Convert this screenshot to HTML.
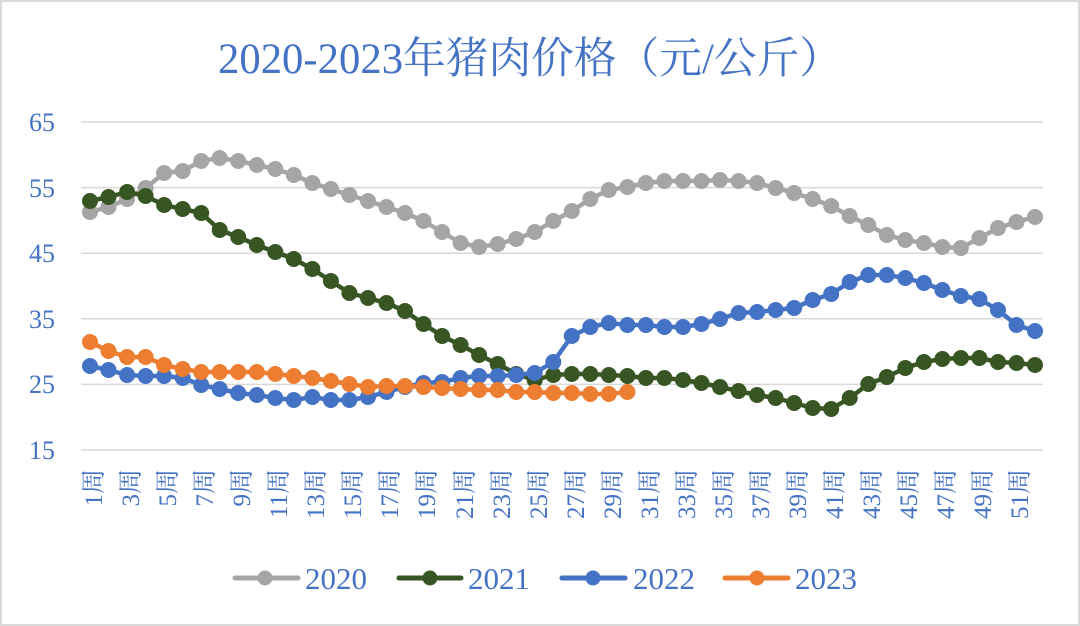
<!DOCTYPE html>
<html><head><meta charset="utf-8"><style>
html,body{margin:0;padding:0;background:#fff}
svg{display:block}
text{font-family:"Liberation Serif","Noto Serif CJK SC",serif;fill:#4472C4}
</style></head><body>
<svg id="s" width="1080" height="626" viewBox="0 0 1080 626" xmlns="http://www.w3.org/2000/svg">
<rect x="1" y="1" width="1078" height="624" fill="#fff" stroke="#d9d9d9" stroke-width="2"/>
<text x="530" y="73" font-size="43" text-anchor="middle" textLength="624" lengthAdjust="spacingAndGlyphs">2020-2023年猪肉价格（元/公斤）</text>
<g stroke="#d9d9d9" stroke-width="1.5">
<line x1="81" y1="122" x2="1043" y2="122"/><line x1="81" y1="187.6" x2="1043" y2="187.6"/>
<line x1="81" y1="253.2" x2="1043" y2="253.2"/><line x1="81" y1="318.8" x2="1043" y2="318.8"/>
<line x1="81" y1="384.4" x2="1043" y2="384.4"/><line x1="81" y1="450" x2="1043" y2="450"/>
</g>
<g font-size="26" text-anchor="end">
<text x="55" y="131">65</text><text x="55" y="197">55</text><text x="55" y="262">45</text>
<text x="55" y="328">35</text><text x="55" y="393">25</text><text x="55" y="459">15</text>
</g>
<g id="xl" font-size="25" text-anchor="end">
<text transform="translate(102,469) rotate(-90)">1周</text>
<text transform="translate(139,469) rotate(-90)">3周</text>
<text transform="translate(176,469) rotate(-90)">5周</text>
<text transform="translate(213,469) rotate(-90)">7周</text>
<text transform="translate(250,469) rotate(-90)">9周</text>
<text transform="translate(287,469) rotate(-90)">11周</text>
<text transform="translate(324,469) rotate(-90)">13周</text>
<text transform="translate(361,469) rotate(-90)">15周</text>
<text transform="translate(398,469) rotate(-90)">17周</text>
<text transform="translate(435,469) rotate(-90)">19周</text>
<text transform="translate(473,469) rotate(-90)">21周</text>
<text transform="translate(510,469) rotate(-90)">23周</text>
<text transform="translate(547,469) rotate(-90)">25周</text>
<text transform="translate(584,469) rotate(-90)">27周</text>
<text transform="translate(621,469) rotate(-90)">29周</text>
<text transform="translate(658,469) rotate(-90)">31周</text>
<text transform="translate(695,469) rotate(-90)">33周</text>
<text transform="translate(732,469) rotate(-90)">35周</text>
<text transform="translate(769,469) rotate(-90)">37周</text>
<text transform="translate(806,469) rotate(-90)">39周</text>
<text transform="translate(843,469) rotate(-90)">41周</text>
<text transform="translate(880,469) rotate(-90)">43周</text>
<text transform="translate(917,469) rotate(-90)">45周</text>
<text transform="translate(954,469) rotate(-90)">47周</text>
<text transform="translate(991,469) rotate(-90)">49周</text>
<text transform="translate(1028,469) rotate(-90)">51周</text>
</g>
<g id="series"></g>
<g stroke-width="5" stroke-linecap="round">
<line x1="235" y1="578" x2="298" y2="578" stroke="#A5A5A5"/><circle cx="265" cy="578" r="7.5" fill="#A5A5A5"/>
<line x1="399" y1="578" x2="461" y2="578" stroke="#375623"/><circle cx="430" cy="578" r="7.5" fill="#375623"/>
<line x1="562" y1="578" x2="625" y2="578" stroke="#4472C4"/><circle cx="593" cy="578" r="7.5" fill="#4472C4"/>
<line x1="725" y1="578" x2="788" y2="578" stroke="#ED7D31"/><circle cx="757" cy="578" r="7.5" fill="#ED7D31"/>
</g>
<g font-size="31">
<text x="305" y="589">2020</text><text x="468" y="589">2021</text>
<text x="633" y="589">2022</text><text x="795" y="589">2023</text>
</g>
</svg>
<script>
var D={
"#A5A5A5":[212,207,199,188,173,171,161,158,161,165,169,175,183,189,195,201,207,213,221,232,243,247,244,239,232,221,211,199,190,187,183,181,181,181,180,181,183,188,193,199,206,216,225,235,240,243,247,248,238,228,222,217],
"#375623":[201,197,192,196,205,209,213,230,237,245,252,259,269,281,293,298,303,311,324,336,345,355,364,374,380,375,374,374,375,376,378,378,380,383,387,391,395,398,403,408,409,398,384,377,368,362,359,358,358,362,363,365],
"#4472C4":[366,370,375,376,376,378,385,389,393,395,398,400,397,400,400,397,392,387,383,382,378,376,376,375,373,362,336,327,323,325,325,327,327,324,319,313,312,310,308,300,294,282,275,275,278,283,290,296,299,310,325,331],
"#ED7D31":[342,351,357,357,365,369,372,372,372,372,374,376,378,381,384,387,386,386,387,388,389,390,390,392,392,393,393,394,394,392]
};
var g=document.getElementById('series'),h="";
for(var c in D){var p=D[c].map(function(y,i){return (90+i*18.53).toFixed(1)+","+y}).join(" ");
h+='<polyline points="'+p+'" fill="none" stroke="'+c+'" stroke-width="4.5" stroke-linejoin="round"/>';
D[c].forEach(function(y,i){h+='<circle cx="'+(90+i*18.53).toFixed(1)+'" cy="'+y+'" r="8" fill="'+c+'"/>';});}
g.innerHTML=h;
</script>
</body></html>
